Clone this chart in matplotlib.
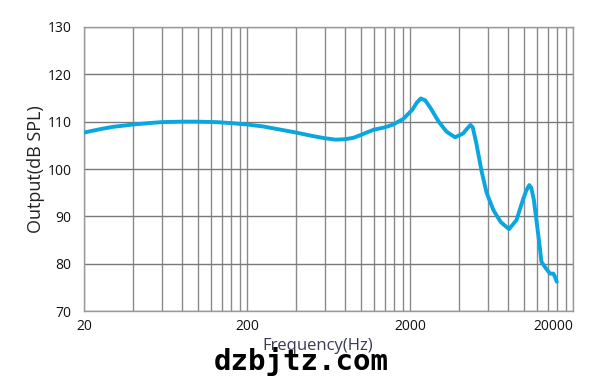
import matplotlib
matplotlib.use("Agg")
import matplotlib.pyplot as plt
from matplotlib.ticker import FixedLocator, NullFormatter

# frequency response (Hz, dB SPL)
freq = [20, 25, 30, 40, 50, 60, 80, 100, 130, 160, 200, 250, 300, 400, 500,
        600, 700, 800, 900, 1000, 1100, 1200, 1400, 1580, 1820, 2065, 2200,
        2330, 2480, 2660, 3000, 3350, 3780, 4230, 4500, 4700, 4850, 5100,
        5500, 5900, 6500, 7200, 8100, 9000, 9840, 10350, 10790, 11100, 11500,
        12000, 12500, 12800, 13650, 14450, 15150, 15500, 15900]
spl = [107.7, 108.4, 108.9, 109.4, 109.7, 109.9, 110.0, 110.0, 109.9, 109.7,
       109.4, 109.0, 108.5, 107.7, 107.0, 106.5, 106.2, 106.3, 106.6, 107.2,
       107.8, 108.3, 108.8, 109.4, 110.6, 112.5, 114.0, 114.9, 114.5, 113.0,
       110.0, 107.9, 106.7, 107.5, 108.6, 109.3, 108.8, 105.5, 99.5, 95.0,
       91.3, 88.8, 87.3, 89.2, 93.4, 95.5, 96.6, 96.0, 93.5, 88.5, 83.6, 80.4,
       79.0, 77.9, 77.9, 77.2, 76.2]

xticks = [20, 200, 2000, 20000]
xtick_labels = ["20", "200", "2000", "20000"]
yticks = [70, 80, 90, 100, 110, 120, 130]

plt.rcParams["font.family"] = ["Open Sans", "DejaVu Sans"]

fig = plt.figure(figsize=(6.07, 3.84), dpi=100)
ax = fig.add_axes([84/607, 1-311/384, (573-84)/607, (311-27)/384])

ax.plot(freq, spl, color="#0AA6E0", lw=2.8, solid_joinstyle="round",
        solid_capstyle="round", zorder=3)

ax.set_xscale("log")
ax.set_xlim(20, 20000)
ax.set_ylim(70, 130)

minor = [m*d for d in (20, 200, 2000) for m in range(2, 10)]
ax.xaxis.set_major_locator(FixedLocator(xticks))
ax.xaxis.set_minor_locator(FixedLocator(minor))
ax.xaxis.set_minor_formatter(NullFormatter())
ax.set_xticklabels(xtick_labels)
ax.set_yticks(yticks)

ax.grid(True, which="both", axis="x", color="#8a8a8a", lw=1.0)
ax.grid(True, which="major", axis="y", color="#7a7a7a", lw=1.0)
for s in ax.spines.values():
    s.set_color("#9a9a9a")
    s.set_linewidth(1.0)

ax.tick_params(which="both", length=0, labelsize=10, colors="#111111")
ax.tick_params(axis="x", pad=6)
ax.tick_params(axis="y", pad=9)
lbls = ax.get_xticklabels()
lbls[-1].set_horizontalalignment("right")

ax.set_ylabel("Output(dB SPL)", fontsize=13, color="#222222", labelpad=2)
fig.text(318/607, 1-346/384, "Frequency(Hz)", fontsize=12, color="#3a3a55",
         ha="center", va="center")
fig.text(301/607, 1-361/384, "dzbjtz.com", fontsize=21, fontweight="bold",
         family="DejaVu Sans Mono", color="black", ha="center", va="center")

fig.savefig("out.png", dpi=100)
